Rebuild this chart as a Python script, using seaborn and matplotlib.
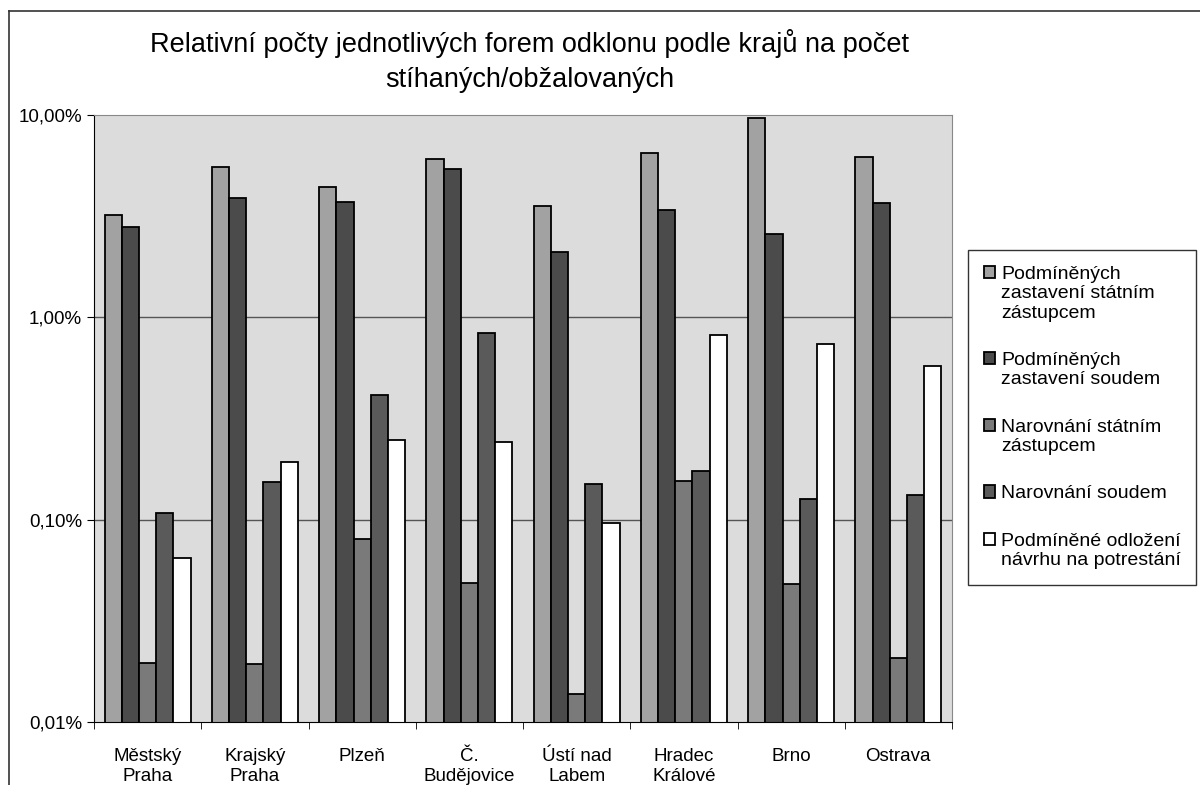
import pandas as pd
import numpy as np
import matplotlib.pyplot as plt
import seaborn as sns
from matplotlib.lines import Line2D
from matplotlib.ticker import FixedLocator, FuncFormatter, NullLocator

kraje = ["Městský\nPraha", "Krajský\nPraha", "Plzeň", "Č.\nBudějovice",
         "Ústí nad\nLabem", "Hradec\nKrálové", "Brno", "Ostrava"]
formy = ["Podmíněných\nzastavení státním\nzástupcem",
         "Podmíněných\nzastavení soudem",
         "Narovnání státním\nzástupcem",
         "Narovnání soudem",
         "Podmíněné odložení\nnávrhu na potrestání"]

# hodnoty v procentech
pz_statni = [3.19, 5.55, 4.42, 6.08, 3.55, 6.50, 9.69, 6.19]
pz_soud = [2.78, 3.88, 3.71, 5.40, 2.10, 3.39, 2.59, 3.67]
nar_statni = [0.0196, 0.0194, 0.080, 0.0489, 0.0138, 0.155, 0.0482, 0.0208]
nar_soud = [0.108, 0.154, 0.414, 0.841, 0.150, 0.174, 0.127, 0.133]
odlozeni = [0.065, 0.192, 0.248, 0.241, 0.0964, 0.818, 0.740, 0.575]

df = pd.DataFrame({"kraj": kraje})
for name, vals in zip(formy, [pz_statni, pz_soud, nar_statni, nar_soud, odlozeni]):
    df[name] = vals
df = df.melt(id_vars="kraj", var_name="forma", value_name="hodnota")

barvy = ["#a2a2a2", "#4b4b4b", "#7a7a7a", "#5a5a5a", "#ffffff"]

plt.rcParams['font.family'] = ['Liberation Sans', 'DejaVu Sans']
fig = plt.figure(figsize=(12, 7.85), dpi=100)
ax = fig.add_axes([94/1200, 63/785, (952-94)/1200, (722-115)/785])
ax.set_facecolor("#dcdcdc")

ax.set_yscale("log")
sns.barplot(data=df, x="kraj", y="hodnota", hue="forma", palette=barvy,
            edgecolor="black", linewidth=1.3, width=0.8, ax=ax, legend=True)
ax.set_ylim(0.01, 10)
ax.set_xlim(-0.5, 7.5)

ax.yaxis.set_major_locator(FixedLocator([0.01, 0.1, 1, 10]))
ax.yaxis.set_minor_locator(NullLocator())
ax.yaxis.set_major_formatter(FuncFormatter(lambda v, p: f"{v:.2f}%".replace(".", ",")))
for yv in [0.1, 1]:
    ax.axhline(yv, color="#555555", linewidth=1, zorder=0.5)

ax.xaxis.set_minor_locator(FixedLocator(np.arange(-0.5, 8, 1)))
ax.tick_params(axis="x", which="major", length=0, labelsize=13.5, pad=19)
ax.tick_params(axis="x", which="minor", length=5, direction="out", color="black")
ax.tick_params(axis="y", which="major", length=5, direction="out", labelsize=13.5)
ax.set_xlabel("")
ax.set_ylabel("")
for s in ["top", "right"]:
    ax.spines[s].set_color("#888888")
for s in ["left", "bottom"]:
    ax.spines[s].set_color("black")

fig.text(530/1200, 1 - 44/785, "Relativní počty jednotlivých forem odklonu podle krajů na počet",
         ha="center", va="center", fontsize=19.5)
fig.text(530/1200, 1 - 80/785, "stíhaných/obžalovaných",
         ha="center", va="center", fontsize=19.5)

handles, labels = ax.get_legend_handles_labels()
ax.legend_.remove()
leg = fig.legend(handles, labels, loc="upper left",
                 bbox_to_anchor=(968/1200, 1 - 250/785), fontsize=14,
                 frameon=True, fancybox=False, edgecolor="black",
                 handlelength=0.6, handleheight=0.6, handletextpad=0.3,
                 labelspacing=1.55, borderpad=0.8, borderaxespad=0)
leg.get_frame().set_linewidth(1)
for col in leg._legend_handle_box.get_children():
    for row in col.get_children():
        row.align = "top"

fig.add_artist(Line2D([9/1200, 1], [1 - 11/785, 1 - 11/785], transform=fig.transFigure,
                      color="#333333", linewidth=1.2))
fig.add_artist(Line2D([9/1200, 9/1200], [0, 1 - 11/785], transform=fig.transFigure,
                      color="#333333", linewidth=1.2))

plt.savefig("out.png", dpi=100)
